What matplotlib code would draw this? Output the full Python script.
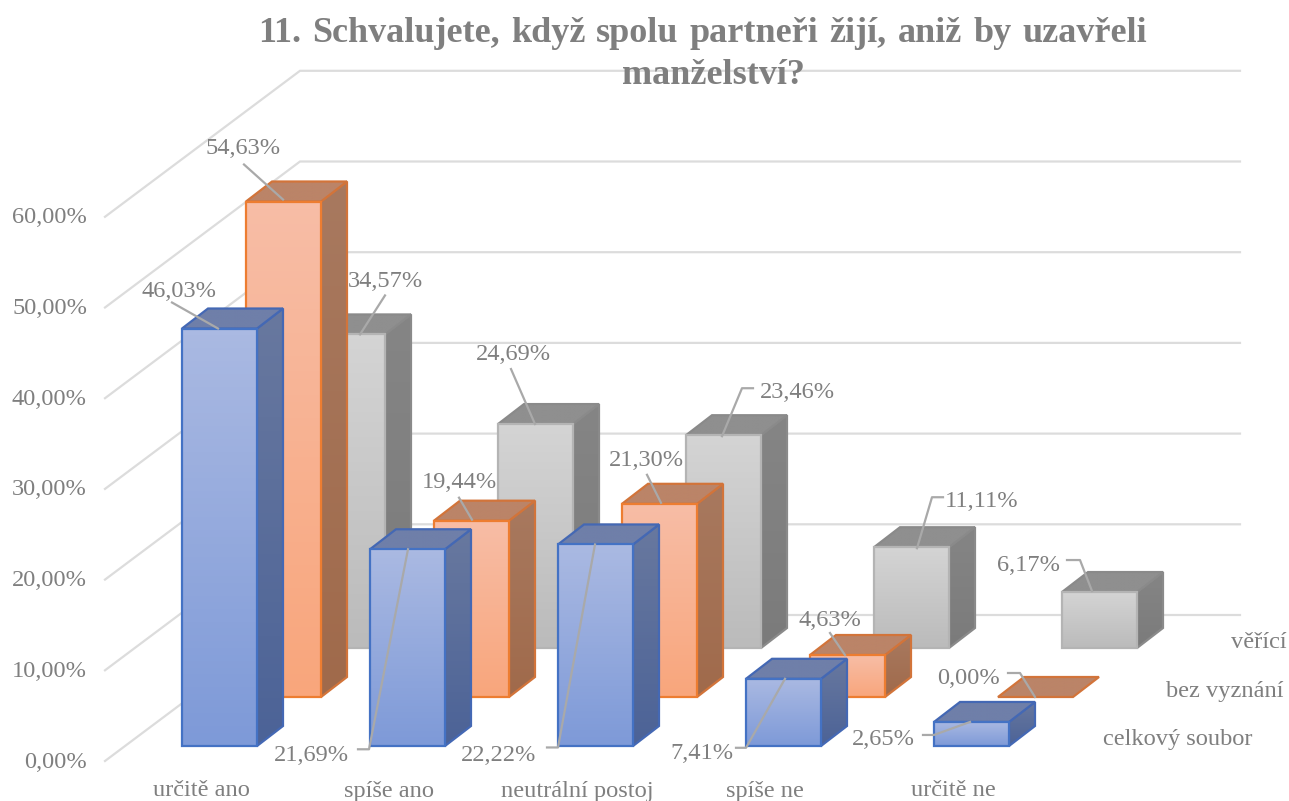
import numpy as np
import matplotlib
matplotlib.use('Agg')
import matplotlib.pyplot as plt
from matplotlib.colors import LinearSegmentedColormap
from matplotlib.patches import Polygon

plt.rcParams['font.family'] = ['Liberation Serif', 'DejaVu Serif']

# data
categories = ['určitě ano', 'spíše ano', 'neutrální postoj', 'spíše ne', 'určitě ne']
series_names = ['celkový soubor', 'bez vyznání', 'věřící']
celkovy = [46.03, 21.69, 22.22, 7.41, 2.65]
bez_vyznani = [54.63, 19.44, 21.30, 4.63, 0.00]
verici = [34.57, 24.69, 23.46, 11.11, 6.17]
axis_ticks = [0, 10, 20, 30, 40, 50, 60]
title_line1 = ['11.', 'Schvalujete,', 'když', 'spolu', 'partneři', 'žijí,', 'aniž', 'by', 'uzavřeli']
title_line2 = 'manželství?'

# projection, all in pixels of the picture
PX = 9.07
BAR_X0, BAR_Y0 = 182, 746
CAT_DX = 188
SER_DX, SER_DY = 64, -49
BAR_W = 75
DEPTH_X, DEPTH_Y = 26, -20
WALL_X0, WALL_Y0 = 105, 761
WALL_X1, WALL_Y1 = 300, 615
WALL_END = 1240

GREY = '#7f7f7f'
LEADER = '#a9a9a9'
FS = 17.6

# front top, front bottom, side top, side bottom, roof, front edge, side edge
styles = [
    ('#aab9e2', '#7e9ad8', '#68789f', '#4c6397', '#6f7fa9', '#4472c4', '#4468b4'),
    ('#f7bda6', '#f9a67c', '#a8795f', '#a06a4b', '#bb8468', '#ed7d31', '#d2743a'),
    ('#d4d4d4', '#bbbbbb', '#858585', '#7b7b7b', '#8f8f8f', '#b4b4b4', '#8a8a8a'),
]

# label centre and leader path relative to the top front left corner of each bar
label_layout = [
    [((-3, -39), [(-10, -26), (36, 0)]),
     ((-59, 204), [(-12, 200), (-1, 200), (38, 0)]),
     ((-59, 209), [(-11, 203), (0, 203), (37, 0)]),
     ((-44, 73), [(-10, 69), (0, 69), (39, 0)]),
     ((-51, 16), [(-11, 13), (0, 13), (36, 0)])],
    [((-3, -55), [(-2, -37), (37, -2)]),
     ((25, -40), [(25, -23), (38, -1)]),
     ((24, -45), [(25, -29), (39, -1)]),
     ((20, -37), [(20, -22), (35, 0)]),
     ((-30, -20), [(10, -24), (22, -24), (37, 0)])],
    [((75, -55), [(75, -39), (50, 0)]),
     ((15, -72), [(13, -55), (37, 0)]),
     ((111, -45), [(67, -47), (56, -47), (36, 1)]),
     ((108, -48), [(69, -50), (58, -50), (43, 1)]),
     ((-33, -29), [(5, -32), (18, -32), (30, -1)])],
]

values = [celkovy, bez_vyznani, verici]


def corner(cat, ser, value):
    x = BAR_X0 + cat * CAT_DX + ser * SER_DX
    y = BAR_Y0 + ser * SER_DY - value * PX
    return x, y


def gradient_poly(ax, pts, top, bottom, edge, lw=1.6):
    pts = np.array(pts, dtype=float)
    cmap = LinearSegmentedColormap.from_list('g', [top, bottom])
    grad = np.linspace(0, 1, 64).reshape(-1, 1)
    ext = [pts[:, 0].min(), pts[:, 0].max(), pts[:, 1].max(), pts[:, 1].min()]
    im = ax.imshow(grad, cmap=cmap, extent=ext, aspect='auto', zorder=ax.z, vmin=0, vmax=1)
    poly = Polygon(pts, closed=True, fc='none', ec=edge, lw=lw, zorder=ax.z + 0.1, joinstyle='miter')
    ax.add_patch(poly)
    im.set_clip_path(poly)
    ax.z += 1


def draw_bar(ax, cat, ser, value):
    front_top, front_bot, side_top, side_bot, roof, edge, side_edge = styles[ser]
    x, y = corner(cat, ser, value)
    _, base = corner(cat, ser, 0)
    w = BAR_W
    dx, dy = DEPTH_X, DEPTH_Y
    if value > 0:
        gradient_poly(ax, [(x + w, y), (x + w + dx, y + dy), (x + w + dx, base + dy), (x + w, base)],
                      side_top, side_bot, side_edge)
    gradient_poly(ax, [(x, y), (x + dx, y + dy), (x + w + dx, y + dy), (x + w, y)], roof, roof, side_edge)
    if value > 0:
        gradient_poly(ax, [(x, y), (x + w, y), (x + w, base), (x, base)], front_top, front_bot, edge)


fig = plt.figure(figsize=(12.89, 8.01), dpi=100)
ax = fig.add_axes([0, 0, 1, 1])
ax.z = 5

# walls and floor lines
for t in axis_ticks:
    yf = WALL_Y0 - t * PX
    yb = WALL_Y1 - t * PX
    ax.plot([WALL_X0, WALL_X1, WALL_END], [yf, yb, yb], color='#dcdcdc', lw=1.6, zorder=1,
            solid_joinstyle='miter')
    label = '{:.2f}%'.format(t).replace('.', ',')
    ax.text(87, yf + 1, label, ha='right', va='center', fontsize=FS, color=GREY)

# bars, back row first
for ser in [2, 1, 0]:
    for cat in range(len(categories)):
        draw_bar(ax, cat, ser, values[ser][cat])

# data labels with leaders
for ser in range(3):
    for cat in range(len(categories)):
        value = values[ser][cat]
        x, y = corner(cat, ser, value)
        pos, path = label_layout[ser][cat]
        px = [x + p[0] for p in path]
        py = [y + p[1] for p in path]
        ax.plot(px, py, color=LEADER, lw=1.6, zorder=ax.z + 1)
        ax.text(x + pos[0], y + pos[1] + 2, '{:.2f}%'.format(value).replace('.', ','), ha='center',
                va='center', fontsize=FS, color=GREY, zorder=ax.z + 2)

# category and series labels
for cat, name in enumerate(categories):
    ax.text(BAR_X0 + 19 + cat * CAT_DX, 791, name, ha='center', va='center', fontsize=FS, color=GREY)
ax.text(1287, 643, series_names[2], ha='right', va='center', fontsize=FS, color=GREY)
ax.text(1283, 691, series_names[1], ha='right', va='center', fontsize=FS, color=GREY)
ax.text(1252, 740, series_names[0], ha='right', va='center', fontsize=FS, color=GREY)

ax.set_xlim(0, 1289)
ax.set_ylim(801, 0)
ax.axis('off')

# title, first line spread over its width
fig.canvas.draw()
renderer = fig.canvas.get_renderer()
title_kw = dict(fontsize=26, fontweight='bold', color=GREY, va='center', ha='left', zorder=ax.z + 3)
word_w = []
for word in title_line1:
    t = ax.text(0, 33, word, **title_kw)
    word_w.append(t.get_window_extent(renderer).width)
    t.remove()
left, right = 258, 1147
gap = (right - left - sum(word_w)) / (len(title_line1) - 1)
x = left
for word, w in zip(title_line1, word_w):
    ax.text(x, 33, word, **title_kw)
    x += w + gap
title_kw['ha'] = 'center'
ax.text(713, 75, title_line2, **title_kw)

fig.savefig('out.png', dpi=100)
